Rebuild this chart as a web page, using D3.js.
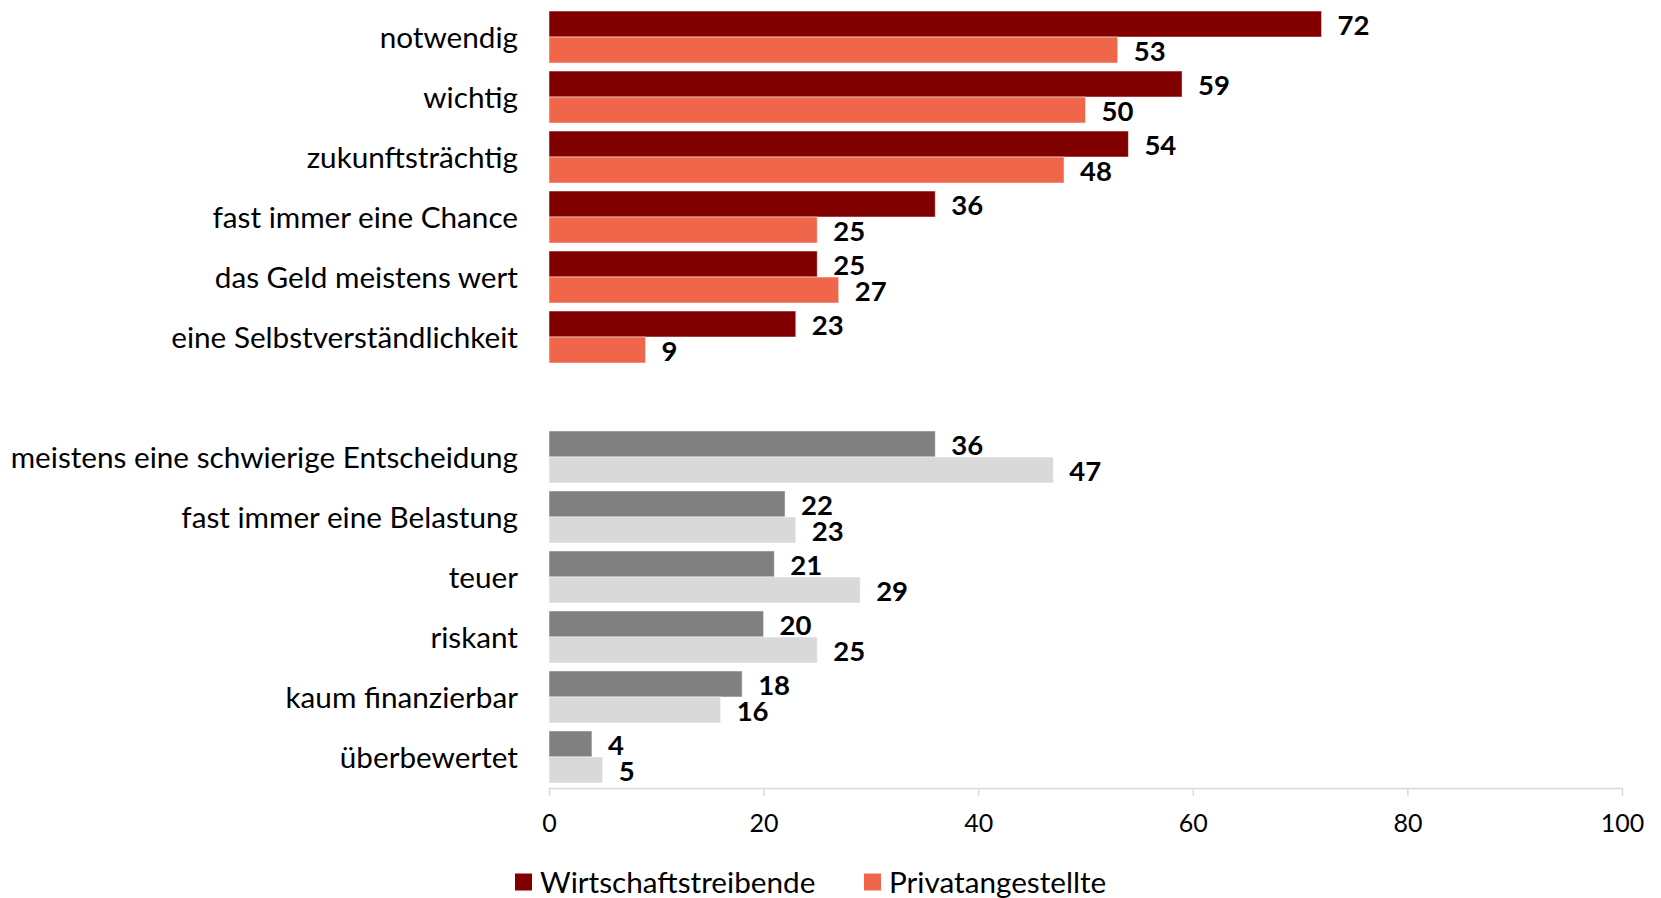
<!DOCTYPE html>
<html>
<head>
<meta charset="utf-8">
<script src="https://cdn.jsdelivr.net/npm/d3@7"></script>
<style>
  body { margin: 0; background: #fff; }
  svg text { font-family: Lato, "Open Sans", sans-serif; fill: #000; }
</style>
</head>
<body>
<div id="chart"></div>
<script>
// top block: positive attributes, red series
const positiveCats = ["notwendig", "wichtig", "zukunftsträchtig", "fast immer eine Chance",
  "das Geld meistens wert", "eine Selbstverständlichkeit"];
const positiveWirtschaft = [72, 59, 54, 36, 25, 23];
const positivePrivat = [53, 50, 48, 25, 27, 9];

// bottom block: negative attributes, grey series
const negativeCats = ["meistens eine schwierige Entscheidung", "fast immer eine Belastung", "teuer",
  "riskant", "kaum finanzierbar", "überbewertet"];
const negativeWirtschaft = [36, 22, 21, 20, 18, 4];
const negativePrivat = [47, 23, 29, 25, 16, 5];

const xTicks = [0, 20, 40, 60, 80, 100];
const seriesNames = ["Wirtschaftstreibende", "Privatangestellte"];

const width = 1661, height = 898;
const margin = {top: 7, right: 39, bottom: 111, left: 549};

const svg = d3.select("#chart").append("svg")
  .attr("width", width)
  .attr("height", height);

// one empty slot separates the two blocks
const slots = positiveCats.concat([" "], negativeCats);

let xScale = d3.scaleLinear().domain([0, 100]).range([margin.left, width - margin.right]);
let yScale = d3.scaleBand().domain(slots)
  .range([margin.top, height - margin.bottom])
  .paddingInner(0.133).paddingOuter(0.067);

function drawBlock(cats, first, second, colors) {
  let rows = cats.map((c, i) => ({cat: c, a: first[i], b: second[i]}));
  let bh = yScale.bandwidth() / 2;
  let g = svg.append("g");
  rows.forEach(function(d) {
    let y0 = yScale(d.cat);
    [d.a, d.b].forEach(function(v, k) {
      g.append("rect")
        .attr("x", xScale(0))
        .attr("y", y0 + k * bh)
        .attr("width", xScale(v) - xScale(0))
        .attr("height", bh)
        .attr("fill", colors[k])
        .attr("stroke", "#fff")
        .attr("stroke-opacity", 0.5)
        .attr("stroke-width", 1);
      g.append("text")
        .attr("x", xScale(v) + 16)
        .attr("y", y0 + k * bh + bh / 2 + 1)
        .attr("dy", "0.36em")
        .attr("font-size", 27.5)
        .attr("font-weight", "bold")
        .text(v);
    });
  });
}

drawBlock(positiveCats, positiveWirtschaft, positivePrivat, ["#800000", "#EF664A"]);
drawBlock(negativeCats, negativeWirtschaft, negativePrivat, ["#808080", "#D9D9D9"]);

// category labels
svg.append("g").selectAll("text")
  .data(positiveCats.concat(negativeCats))
  .enter().append("text")
  .attr("x", margin.left - 31)
  .attr("y", d => yScale(d) + yScale.bandwidth() / 2)
  .attr("dy", "0.36em")
  .attr("text-anchor", "end")
  .attr("font-size", 29.7)
  .text(d => d);

// x axis
let axisY = height - margin.bottom + 1;
let axis = svg.append("g")
  .attr("transform", "translate(0," + axisY + ")")
  .call(d3.axisBottom(xScale).tickValues(xTicks).tickSize(8).tickPadding(18).tickSizeOuter(0));
axis.select(".domain").attr("stroke", "#D9D9D9").attr("stroke-width", 1.5);
axis.selectAll(".tick line").attr("stroke", "#D9D9D9").attr("stroke-width", 1.5);
axis.selectAll(".tick text")
  .attr("font-size", 25)
  .attr("font-family", "Lato, sans-serif")
  .attr("fill", "#000");

// legend
let legend = svg.append("g").attr("transform", "translate(515,882)");
let legendX = [0, 349];
seriesNames.forEach(function(name, i) {
  let lg = legend.append("g").attr("transform", "translate(" + legendX[i] + ",0)");
  lg.append("rect")
    .attr("x", 0).attr("y", -8.5)
    .attr("width", 17).attr("height", 17)
    .attr("fill", ["#800000", "#EF664A"][i]);
  lg.append("text")
    .attr("x", 25).attr("y", 0)
    .attr("dy", "0.36em")
    .attr("font-size", 29.7)
    .text(name);
});
</script>
</body>
</html>
